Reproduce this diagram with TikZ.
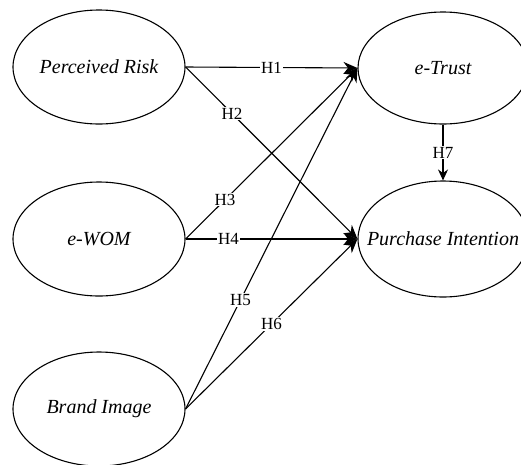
\documentclass[tikz,border=0pt]{standalone}
\usepackage{fontspec}
\setmainfont{Liberation Serif}
\usetikzlibrary{shapes.geometric,arrows.meta}
\begin{document}
\begin{tikzpicture}[x=1pt,y=-1pt,
  construct/.style={ellipse,draw,line width=1.1pt,inner sep=0pt,
    minimum width=172pt,minimum height=114pt,font=\fontsize{20}{22}\selectfont\itshape},
  path/.style={line width=1.1pt,-{Stealth[length=14pt,width=12pt]}},
  hyp/.style={fill=white,inner sep=1pt,font=\fontsize{17}{19}\selectfont}]
\useasboundingbox (0,0) rectangle (521,464);
% labels are boxed at zero width so every ellipse keeps its set size
\node[construct] (pr) at (99,67) {\makebox[0pt]{Perceived Risk}};
\node[construct] (ew) at (99,239) {\makebox[0pt]{e-WOM}};
\node[construct] (bi) at (99,409) {\makebox[0pt]{Brand Image}};
\node[construct,minimum width=170pt,minimum height=112pt] (et) at (443,68) {\makebox[0pt]{e-Trust}};
\node[construct,minimum width=170pt,minimum height=116pt] (pi) at (443,239) {\makebox[0pt]{Purchase Intention}};
\draw[path] (pr.east) -- node[hyp,pos=0.5] {H1} (et.west);
\draw[path] (pr.east) -- node[hyp,pos=0.27] {H2} (pi.west);
\draw[path] (ew.east) -- node[hyp,pos=0.23] {H3} (et.west);
\draw[path] (ew.east) -- node[hyp,pos=0.25] {H4} (pi.west);
\draw[path] (bi.east) -- node[hyp,pos=0.32] {H5} (et.west);
\draw[path] (bi.east) -- node[hyp,pos=0.5] {H6} (pi.west);
\draw[line width=1.1pt,-{Stealth[length=11pt,width=10pt]}] (et.south) -- node[hyp] {H7} (pi.north);
\end{tikzpicture}
\end{document}
